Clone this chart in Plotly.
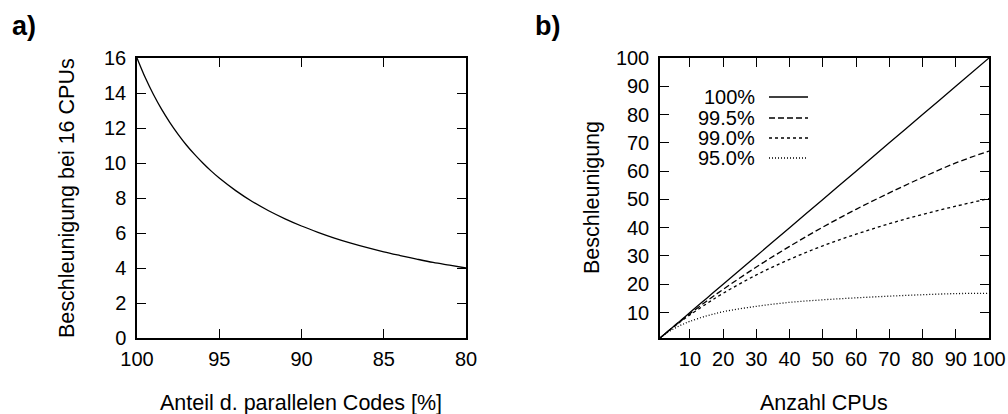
import plotly.graph_objects as go

# Panel a) speedup at 16 CPUs versus parallel share of the code
anteil = [100, 99.5, 99, 98.5, 98, 97.5, 97, 96.5, 96, 95.5, 95, 94, 93, 92, 91, 90,
          89, 88, 87, 86, 85, 84, 83, 82, 81, 80]
speedup16 = [16.0, 14.88, 13.91, 13.06, 12.31, 11.64, 11.03, 10.49, 10.0, 9.55, 9.14,
             8.42, 7.80, 7.27, 6.81, 6.40, 6.04, 5.71, 5.42, 5.16, 4.92, 4.71, 4.51,
             4.32, 4.16, 4.0]

# Panel b) speedup versus number of CPUs for several parallel shares
cpus = [1, 2, 4, 6, 8, 10, 15, 20, 30, 40, 50, 60, 70, 80, 90, 100]
s_100 = [1, 2, 4, 6, 8, 10, 15, 20, 30, 40, 50, 60, 70, 80, 90, 100]
s_995 = [1, 1.99, 3.94, 5.85, 7.72, 9.57, 14.0, 18.2, 26.1, 33.4, 40.2, 46.5, 52.3, 57.8, 62.9, 67.1]
s_990 = [1, 1.98, 3.88, 5.71, 7.48, 9.17, 13.1, 16.8, 23.3, 28.8, 33.6, 37.7, 41.4, 44.7, 47.6, 50.3]
s_950 = [1, 1.90, 3.48, 4.8, 5.93, 6.9, 8.8, 10.3, 12.2, 13.6, 14.5, 15.2, 15.8, 16.3, 16.7, 16.8]

series_names = ["100%", "99.5%", "99.0%", "95.0%"]
series_vals = [s_100, s_995, s_990, s_950]
series_dash = ["solid", "6px,3px", "3px,3px", "1px,2px"]

W, H = 1008, 414
FONT = "Liberation Sans, Arial, sans-serif"
FS = 20
FT = 21.5
LW = 1.3

fig = go.Figure()

fig.add_trace(go.Scatter(x=anteil, y=speedup16, mode="lines", line=dict(color="black", width=LW, shape="spline"),
                         xaxis="x", yaxis="y", showlegend=False, hoverinfo="skip"))

for name, vals, dash in zip(series_names, series_vals, series_dash):
    fig.add_trace(go.Scatter(x=cpus, y=vals, mode="lines", name=name,
                             line=dict(color="black", width=LW, dash=dash, shape="spline"),
                             xaxis="x2", yaxis="y2", showlegend=False, hoverinfo="skip"))

def px_x(v):
    return v / W

def px_y(v):
    return 1 - v / H

ydom = [px_y(338), px_y(58)]

axis_common = dict(showline=True, linecolor="black", linewidth=1.5, mirror="allticks",
                   ticks="inside", ticklen=9, tickwidth=1.3, tickcolor="black",
                   showgrid=False, zeroline=False, automargin=False,
                   tickfont=dict(family=FONT, size=FS, color="black"))

fig.update_layout(
    width=W, height=H,
    margin=dict(l=0, r=0, t=0, b=0, autoexpand=False),
    paper_bgcolor="white", plot_bgcolor="white",
    xaxis=dict(domain=[px_x(137), px_x(466)], range=[100, 80], tickvals=[100, 95, 90, 85, 80],
               anchor="y", ticklabelstandoff=2, **axis_common),
    yaxis=dict(domain=ydom, range=[0, 16], tickvals=list(range(0, 17, 2)), anchor="x",
               ticklabelstandoff=5, **axis_common),
    xaxis2=dict(domain=[px_x(660), px_x(989)], range=[1, 100], tickvals=list(range(10, 101, 10)),
                anchor="y2", ticklabelstandoff=2, **axis_common),
    yaxis2=dict(domain=ydom, range=[1, 100], tickvals=list(range(10, 101, 10)), anchor="x2",
                ticklabelstandoff=5, **axis_common),
)

annots = [
    dict(text="<b>a)</b>", x=px_x(10), y=px_y(9), xanchor="left", yanchor="top",
         font=dict(family=FONT, size=27, color="black")),
    dict(text="<b>b)</b>", x=px_x(533), y=px_y(9), xanchor="left", yanchor="top",
         font=dict(family=FONT, size=27, color="black")),
    dict(text="Beschleunigung bei 16 CPUs", x=px_x(67), y=px_y(198), textangle=-90,
         xanchor="center", yanchor="middle", font=dict(family=FONT, size=FT, color="black")),
    dict(text="Anteil d. parallelen Codes [%]", x=px_x(301), y=px_y(403),
         xanchor="center", yanchor="middle", font=dict(family=FONT, size=FT, color="black")),
    dict(text="Beschleunigung", x=px_x(592), y=px_y(198), textangle=-90,
         xanchor="center", yanchor="middle", font=dict(family=FONT, size=FT, color="black")),
    dict(text="Anzahl CPUs", x=px_x(824), y=px_y(403),
         xanchor="center", yanchor="middle", font=dict(family=FONT, size=FT, color="black")),
]

# Hand-drawn key: right-aligned labels followed by line samples
row_y = [97, 118, 138, 158]
shapes = []
for name, dash, yy in zip(series_names, series_dash, row_y):
    annots.append(dict(text=name, x=px_x(757), y=px_y(yy), xanchor="right", yanchor="middle",
                       font=dict(family=FONT, size=FS, color="black")))
    shapes.append(dict(type="line", xref="paper", yref="paper",
                       x0=px_x(769), x1=px_x(808), y0=px_y(yy), y1=px_y(yy),
                       line=dict(color="black", width=LW, dash=dash)))

for a in annots:
    a.update(xref="paper", yref="paper", showarrow=False)

fig.update_layout(annotations=annots, shapes=shapes)

fig.write_html("out.html")
